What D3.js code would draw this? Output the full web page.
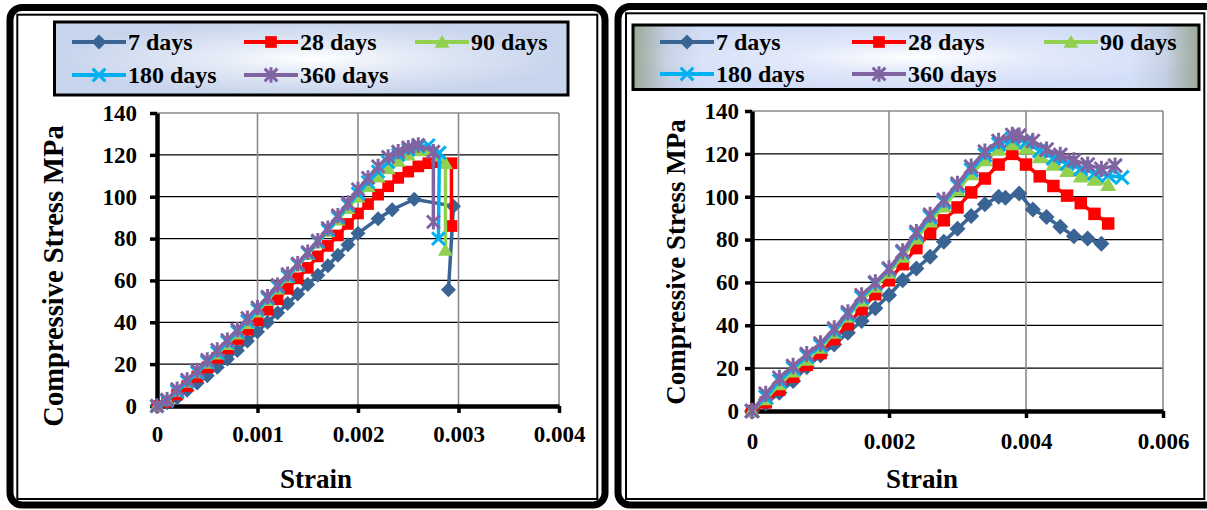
<!DOCTYPE html>
<html>
<head>
<meta charset="utf-8">
<script src="https://cdn.jsdelivr.net/npm/d3@7"></script>
<style>
  html, body { margin: 0; padding: 0; background: #fff; }
  svg { display: block; }
  text { font-family: "Liberation Serif", "Times New Roman", serif; font-weight: bold; fill: #000; }
</style>
</head>
<body>
<svg id="fig" width="1207" height="510"></svg>
<script>
// ---------- data ----------
const seriesNames = ["7 days", "28 days", "90 days", "180 days", "360 days"];
const stressTicks = [0, 20, 40, 60, 80, 100, 120, 140];
const strainTicksA = [0, 0.001, 0.002, 0.003, 0.004];
const strainTicksB = [0, 0.002, 0.004, 0.006];
const stressTitle = "Compressive Stress MPa";
const strainTitle = "Strain";

// Panel A: [strain, stress MPa]
const a7 = [[0,0],[0.0001,1.5],[0.0002,4],[0.0003,7.5],[0.0004,11],[0.0005,14.5],[0.0006,18.5],[0.0007,22.5],[0.0008,26.5],[0.0009,31],[0.001,35.5],[0.0011,40],[0.0012,44.5],[0.0013,49],[0.0014,53.5],[0.0015,58],[0.0016,62.5],[0.0017,67],[0.0018,72],[0.0019,77],[0.002,82.5],[0.0022,89.5],[0.00234,93.8],[0.00256,98.8],[0.00295,95.5],[0.0029,55.5]];
const a28 = [[0,0],[0.0001,2],[0.0002,5.5],[0.0003,9.5],[0.0004,14],[0.0005,18.5],[0.0006,23],[0.0007,27.5],[0.0008,32],[0.0009,36.5],[0.001,41],[0.0011,46],[0.0012,51],[0.0013,56],[0.0014,61],[0.0015,66],[0.0016,71.5],[0.0017,76.5],[0.0018,81.5],[0.0019,87],[0.002,92],[0.0021,96.5],[0.0022,101],[0.0023,105],[0.0024,109],[0.0025,112],[0.0026,114.5],[0.0027,116],[0.0028,116.5],[0.00293,116],[0.00293,86]];
const a90 = [[0,0],[0.0001,3],[0.0002,7],[0.0003,11.5],[0.0004,16],[0.0005,20.5],[0.0006,25],[0.0007,29.5],[0.0008,34.5],[0.0009,39.5],[0.001,45],[0.0011,50.5],[0.0012,56],[0.0013,61.5],[0.0014,67],[0.0015,72.5],[0.0016,78],[0.0017,83.5],[0.0018,89],[0.0019,94.5],[0.002,100],[0.0021,105],[0.0022,109.5],[0.0023,113.5],[0.0024,117],[0.0025,120],[0.0026,122],[0.0027,122.5],[0.0028,119.5],[0.00287,116],[0.00287,74.5]];
const a180 = [[0,0],[0.0001,2.5],[0.0002,7],[0.0003,11.5],[0.0004,16],[0.0005,21],[0.0006,25.5],[0.0007,30.5],[0.0008,35.5],[0.0009,40.5],[0.001,46],[0.0011,51.5],[0.0012,57],[0.0013,62],[0.0014,67.5],[0.0015,73],[0.0016,78.5],[0.0017,84],[0.0018,90],[0.0019,96],[0.002,101.5],[0.0021,107],[0.0022,112],[0.0023,116.5],[0.0024,120],[0.0025,122.5],[0.0026,124],[0.0027,124.5],[0.00281,121],[0.0028,80]];
const a360 = [[0,0],[0.0001,3],[0.0002,8],[0.0003,12.5],[0.0004,17],[0.0005,22],[0.0006,26.8],[0.0007,31.5],[0.0008,36.5],[0.0009,42],[0.001,47],[0.0011,52.2],[0.0012,57.8],[0.0013,63],[0.0014,68],[0.0015,73.5],[0.0016,79],[0.0017,85],[0.0018,91],[0.0019,97],[0.002,103.5],[0.0021,109],[0.0022,114.5],[0.0023,119],[0.0024,121.5],[0.0025,123.5],[0.0026,124.7],[0.00275,121.5],[0.00275,88]];

// Panel B: [strain, stress MPa]
const b7 = [[0,0],[0.0002,3.5],[0.0004,8.5],[0.0006,14],[0.0008,20.5],[0.001,26],[0.0012,31],[0.0014,36.5],[0.0016,42],[0.0018,48],[0.002,54],[0.0022,61],[0.0024,66.5],[0.0026,72],[0.0028,79],[0.003,85],[0.0032,91],[0.0034,96.5],[0.0036,100],[0.0037,99.5],[0.0039,101.5],[0.0041,94],[0.0043,90.5],[0.0045,86],[0.0047,81.5],[0.0049,80.5],[0.0051,78]];
const b28 = [[0,0],[0.0002,4],[0.0004,10],[0.0006,16],[0.0008,21.5],[0.001,27],[0.0012,33.5],[0.0014,40.5],[0.0016,47.5],[0.0018,54.5],[0.002,61],[0.0022,68.5],[0.0024,76],[0.0026,83],[0.0028,89],[0.003,95],[0.0032,102],[0.0034,108.5],[0.0036,115],[0.0038,120],[0.004,115],[0.0042,109.5],[0.0044,105],[0.0046,100.5],[0.0048,97],[0.005,92],[0.0052,87.5]];
const b90 = [[0,0],[0.0002,5.5],[0.0004,12.5],[0.0006,18.5],[0.0008,24],[0.001,29.5],[0.0012,36.5],[0.0014,44],[0.0016,51.5],[0.0018,58],[0.002,64.5],[0.0022,72],[0.0024,80.5],[0.0026,88.5],[0.0028,95.5],[0.003,103],[0.0032,110.5],[0.0034,117],[0.0036,122],[0.0038,124.5],[0.004,122.5],[0.0042,118.5],[0.0044,115],[0.0046,112],[0.0048,109.5],[0.005,108],[0.0052,105.5]];
const b180 = [[0,0],[0.0002,6.5],[0.0004,14],[0.0006,20],[0.0008,25.5],[0.001,30.5],[0.0012,37.5],[0.0014,45],[0.0016,53],[0.0018,59.5],[0.002,66],[0.0022,74],[0.0024,82.5],[0.0026,90.5],[0.0028,97.5],[0.003,105],[0.0032,112.5],[0.0034,119.5],[0.0036,124.5],[0.0038,127],[0.004,125.5],[0.0042,121.5],[0.0044,118],[0.0046,115.5],[0.0048,113],[0.005,111],[0.0052,110],[0.0054,109]];
const b360 = [[0,0],[0.0002,8],[0.0004,15.5],[0.0006,21],[0.0008,26.5],[0.001,31.5],[0.0012,38.5],[0.0014,46],[0.0016,54],[0.0018,60],[0.002,66.5],[0.0022,74.5],[0.0024,83.5],[0.0026,91.5],[0.0028,98.5],[0.003,106],[0.0032,114],[0.0034,121],[0.0036,126],[0.0038,128.8],[0.0039,128.5],[0.0041,126],[0.0043,122],[0.0045,119.5],[0.0047,117],[0.0049,115],[0.0051,113],[0.0053,114.5]];

// ---------- styles ----------
const seriesColors = ["#3A6494", "#FF0000", "#92D050", "#00B0F0", "#8064A2"];
const seriesShapes = ["diamond", "square", "triangle", "cross", "star"];

const svg = d3.select("#fig");
const defs = svg.append("defs");

// marker path generators, centred on 0,0
function markerPath(shape, s) {
  const p = d3.path();
  if (shape === "diamond") {
    p.moveTo(0, -s); p.lineTo(s, 0); p.lineTo(0, s); p.lineTo(-s, 0); p.closePath();
  } else if (shape === "square") {
    const h = s * 0.78;
    p.rect(-h, -h, 2 * h, 2 * h);
  } else if (shape === "triangle") {
    const h = s * 0.95;
    p.moveTo(0, -h); p.lineTo(h * 1.05, h * 0.8); p.lineTo(-h * 1.05, h * 0.8); p.closePath();
  } else if (shape === "cross") {
    const h = s * 0.85;
    p.moveTo(-h, -h); p.lineTo(h, h); p.moveTo(h, -h); p.lineTo(-h, h);
  } else if (shape === "star") {
    const h = s * 0.85;
    p.moveTo(-h, -h); p.lineTo(h, h); p.moveTo(h, -h); p.lineTo(-h, h);
    p.moveTo(0, -h * 1.2); p.lineTo(0, h * 1.2);
  }
  return p.toString();
}
function isStroked(shape) { return shape === "cross" || shape === "star"; }

function drawMarker(g, shape, color, cx, cy, s) {
  const m = g.append("path")
    .attr("d", markerPath(shape, s))
    .attr("transform", `translate(${cx},${cy})`);
  if (isStroked(shape)) {
    m.attr("fill", "none").attr("stroke", color).attr("stroke-width", 3);
  } else {
    m.attr("fill", color).attr("stroke", "none");
  }
}

// ---------- frames ----------
function frame(ox, oy, ow, oh, ix, iy, iw, ih) {
  svg.append("rect").attr("x", ox).attr("y", oy).attr("width", ow).attr("height", oh)
    .attr("rx", 12).attr("fill", "none").attr("stroke", "#000").attr("stroke-width", 7);
  svg.append("rect").attr("x", ix).attr("y", iy).attr("width", iw).attr("height", ih)
    .attr("fill", "none").attr("stroke", "#000").attr("stroke-width", 2);
}
frame(10, 7.4, 595, 497.6, 17.3, 14.7, 580, 484.3);
frame(618, 6.5, 600, 498.5, 626, 13.3, 578.3, 485.7);

// ---------- legend backgrounds ----------
const gA = defs.append("radialGradient").attr("id", "legA").attr("cx", "50%").attr("cy", "50%").attr("r", "50%");
gA.append("stop").attr("offset", "0%").attr("stop-color", "#ffffff");
gA.append("stop").attr("offset", "35%").attr("stop-color", "#e6ecf7");
gA.append("stop").attr("offset", "100%").attr("stop-color", "#c7d4ec");

const gB = defs.append("linearGradient").attr("id", "legB").attr("x1", "0%").attr("x2", "100%");
[["0%", "#9ba895"], ["6%", "#c3cfe3"], ["12%", "#d2ddf7"], ["88%", "#d2ddf7"], ["94%", "#c3cfe3"], ["100%", "#9ba895"]]
  .forEach(([o, c]) => gB.append("stop").attr("offset", o).attr("stop-color", c));
const gB2 = defs.append("radialGradient").attr("id", "legB2").attr("cx", "50%").attr("cy", "50%").attr("r", "50%");
gB2.append("stop").attr("offset", "0%").attr("stop-color", "#ffffff").attr("stop-opacity", 1);
gB2.append("stop").attr("offset", "45%").attr("stop-color", "#ffffff").attr("stop-opacity", 0.35);
gB2.append("stop").attr("offset", "100%").attr("stop-color", "#ffffff").attr("stop-opacity", 0);

function legend(box, fills, cols, rows, lineLen, fontSize) {
  fills.forEach(f => {
    svg.append("rect").attr("x", box.x).attr("y", box.y).attr("width", box.w).attr("height", box.h)
      .attr("fill", f);
  });
  svg.append("rect").attr("x", box.x).attr("y", box.y).attr("width", box.w).attr("height", box.h)
    .attr("fill", "none").attr("stroke", "#000").attr("stroke-width", 3);
  const g = svg.append("g");
  seriesNames.forEach((name, i) => {
    const lx = cols[i % 3], ly = rows[Math.floor(i / 3)];
    g.append("line").attr("x1", lx).attr("x2", lx + lineLen).attr("y1", ly).attr("y2", ly)
      .attr("stroke", seriesColors[i]).attr("stroke-width", 4);
    drawMarker(g, seriesShapes[i], seriesColors[i], lx + lineLen / 2, ly, 7.5);
    g.append("text").attr("x", lx + lineLen + 2).attr("y", ly).attr("dy", "0.33em")
      .style("font-size", fontSize + "px").text(name);
  });
}
legend({ x: 54.5, y: 22, w: 513.5, h: 73 }, ["url(#legA)"], [72, 244, 415], [42, 75], 54, 24);
legend({ x: 633, y: 25, w: 566, h: 64.5 }, ["url(#legB)", "url(#legB2)"], [660, 852, 1044], [42, 74], 54, 24);

// ---------- chart panels ----------
function panel(cfg) {
  const x = d3.scaleLinear().domain([0, cfg.xTicks[cfg.xTicks.length - 1]]).range([cfg.left, cfg.right]);
  const y = d3.scaleLinear().domain([0, 140]).range([cfg.bottom, cfg.top]);
  const g = svg.append("g");

  // grid
  g.append("g").selectAll("line").data(stressTicks.slice(1)).join("line")
    .attr("x1", cfg.left).attr("x2", cfg.right)
    .attr("y1", d => y(d)).attr("y2", d => y(d))
    .attr("stroke", d => d === 140 ? "#8a8a8a" : "#000").attr("stroke-width", d => d === 140 ? 1.6 : 1.3);
  g.append("g").selectAll("line").data(cfg.xTicks.slice(1)).join("line")
    .attr("x1", d => x(d)).attr("x2", d => x(d))
    .attr("y1", cfg.top).attr("y2", cfg.bottom)
    .attr("stroke", "#8a8a8a").attr("stroke-width", 1.6);

  // axes
  const yAxis = g.append("g").attr("transform", `translate(${cfg.left},0)`)
    .call(d3.axisLeft(y).tickValues(stressTicks).tickFormat(d => String(d))
      .tickSize(7).tickSizeOuter(0).tickPadding(cfg.yPad));
  const xAxis = g.append("g").attr("transform", `translate(0,${cfg.bottom})`)
    .call(d3.axisBottom(x).tickValues(cfg.xTicks).tickFormat(d => String(d))
      .tickSize(7).tickSizeOuter(0).tickPadding(cfg.xPad));
  [yAxis, xAxis].forEach(a => {
    a.select(".domain").attr("stroke", "#000").attr("stroke-width", 4.5);
    a.selectAll(".tick line").attr("stroke", "#000").attr("stroke-width", 3.5);
    a.selectAll(".tick text").style("font-size", cfg.tickFont + "px");
  });

  // series
  const line = d3.line().x(d => x(d[0])).y(d => y(d[1]));
  cfg.series.forEach((data, i) => {
    const sg = g.append("g");
    sg.append("path").datum(data).attr("d", line)
      .attr("fill", "none").attr("stroke", seriesColors[i]).attr("stroke-width", 3.5)
      .attr("stroke-linejoin", "round");
    data.forEach(d => drawMarker(sg, seriesShapes[i], seriesColors[i], x(d[0]), y(d[1]), cfg.marker));
  });

  // titles
  g.append("text").attr("x", cfg.xTitle[0]).attr("y", cfg.xTitle[1]).attr("text-anchor", "middle")
    .style("font-size", cfg.titleFont + "px").text(strainTitle);
  g.append("text").attr("transform", `translate(${cfg.yTitle[0]},${cfg.yTitle[1]}) rotate(-90)`)
    .attr("text-anchor", "middle").style("font-size", cfg.yTitleFont + "px").text(stressTitle);
}

panel({
  left: 157, right: 559, top: 113, bottom: 406,
  xTicks: strainTicksA, series: [a7, a28, a90, a180, a360],
  yPad: 13, xPad: 13, tickFont: 23, titleFont: 27, yTitleFont: 28.5, marker: 7.5,
  xTitle: [316, 488], yTitle: [63, 276]
});
panel({
  left: 752, right: 1163, top: 111, bottom: 411,
  xTicks: strainTicksB, series: [b7, b28, b90, b180, b360],
  yPad: 6, xPad: 15, tickFont: 23, titleFont: 27, yTitleFont: 27, marker: 8,
  xTitle: [922, 488], yTitle: [685, 262]
});
</script>
</body>
</html>
